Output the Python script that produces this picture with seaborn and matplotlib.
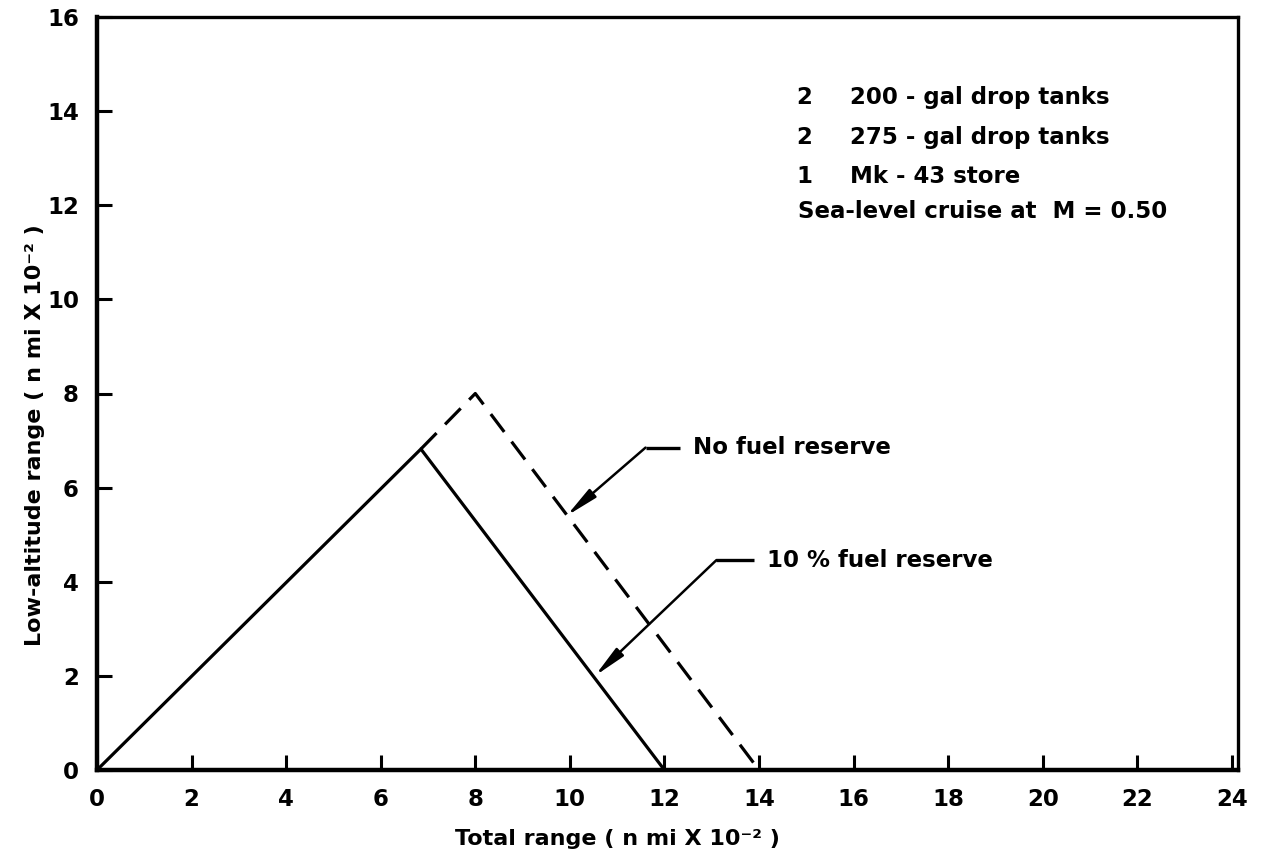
import matplotlib
matplotlib.use("Agg")
import matplotlib.pyplot as plt
import seaborn as sns
import pandas as pd

# ---- data ----
reserve10_x = [0.0, 6.85, 12.0]
reserve10_y = [0.0, 6.82, 0.0]
noreserve_x = [6.85, 8.0, 14.0]
noreserve_y = [6.82, 8.0, 0.0]

x_ticks = [0, 2, 4, 6, 8, 10, 12, 14, 16, 18, 20, 22, 24]
y_ticks = [0, 2, 4, 6, 8, 10, 12, 14, 16]

x_label = "Total range ( n mi X 10⁻² )"
y_label = "Low-altitude range ( n mi X 10⁻² )"

config_counts = ["2", "2", "1"]
config_items = ["200 - gal drop tanks", "275 - gal drop tanks", "Mk - 43 store"]
cruise_note = "Sea-level cruise at  M = 0.50"

ann_labels = ["No fuel reserve", "10 % fuel reserve"]
ann_tips = [(9.93, 5.40), (10.53, 2.0)]
ann_elbows = [(11.6, 6.85), (13.1, 4.46)]
ann_text_x = [12.6, 14.16]

# ---- style ----
sns.set_style("white")
plt.rcParams["font.family"] = ["DejaVu Sans"]
plt.rcParams["font.weight"] = "bold"
plt.rcParams["text.color"] = "black"
plt.rcParams["axes.labelcolor"] = "black"
plt.rcParams["xtick.color"] = "black"
plt.rcParams["ytick.color"] = "black"

fig = plt.figure(figsize=(12.64, 8.61), dpi=100)
ax = fig.add_axes([97 / 1264, 1 - 770 / 861, (1238 - 97) / 1264, (770 - 17) / 861])

df_solid = pd.DataFrame({"x": reserve10_x, "y": reserve10_y})
df_dash = pd.DataFrame({"x": noreserve_x, "y": noreserve_y})

sns.lineplot(data=df_solid, x="x", y="y", ax=ax, color="black", lw=2.3,
             sort=False, estimator=None)
sns.lineplot(data=df_dash, x="x", y="y", ax=ax, color="black", lw=2.3,
             sort=False, estimator=None, linestyle=(0, (7, 3.8)))

ax.set_xlim(0, 24.13)
ax.set_ylim(0, 16)
ax.set_xticks(x_ticks)
ax.set_yticks(y_ticks)
ax.set_xticklabels([str(t) for t in x_ticks])
ax.set_yticklabels([str(t) for t in y_ticks])
ax.tick_params(direction="in", length=11, width=2.2, color="black",
               labelcolor="black", labelsize=16.5, pad=13,
               bottom=True, left=True, top=False, right=False)
for lab in ax.get_xticklabels() + ax.get_yticklabels():
    lab.set_fontweight("bold")

for side in ["left", "bottom"]:
    ax.spines[side].set_linewidth(3.2)
for side in ["top", "right"]:
    ax.spines[side].set_linewidth(2.4)
for s in ax.spines.values():
    s.set_color("black")
    s.set_visible(True)

ax.set_xlabel(x_label, fontsize=16, fontweight="bold", color="black")
ax.set_ylabel(y_label, fontsize=16, fontweight="bold", color="black")
ax.xaxis.set_label_coords(0.456, -0.078)
ax.yaxis.set_label_coords(-0.046, 0.445)

# configuration text block
row_y = [14.28, 13.43, 12.62]
for cnt, item, yy in zip(config_counts, config_items, row_y):
    ax.text(14.78, yy, cnt, fontsize=16.5, fontweight="bold", va="center", ha="left")
    ax.text(15.92, yy, item, fontsize=16.5, fontweight="bold", va="center", ha="left")
ax.text(14.82, 11.86, cruise_note, fontsize=16.5, fontweight="bold", va="center", ha="left")

# annotations with elbow leaders
for lab, tip, elb, tx in zip(ann_labels, ann_tips, ann_elbows, ann_text_x):
    ax.plot([elb[0], tx - 0.27], [elb[1], elb[1]], color="black", lw=2.4,
            solid_capstyle="butt")
    ax.annotate("", xy=tip, xytext=elb,
                arrowprops=dict(arrowstyle="-|>,head_length=1.2,head_width=0.2",
                                color="black", lw=1.8, mutation_scale=16,
                                shrinkA=0, shrinkB=0))
    ax.text(tx, elb[1], lab, fontsize=16.5, fontweight="bold", va="center", ha="left")

fig.savefig("out.png", dpi=100)
